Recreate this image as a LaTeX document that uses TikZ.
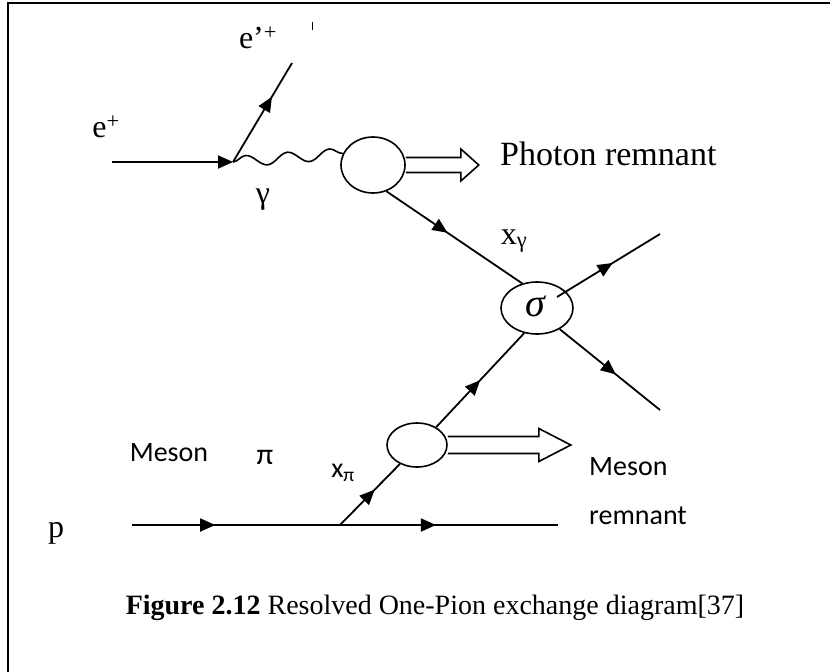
\documentclass[tikz,border=0pt]{standalone}
\usepackage{fontspec}
\setmainfont{Liberation Serif}
\newfontfamily\calib{Carlito}
\usetikzlibrary{arrows.meta,decorations.pathmorphing,decorations.markings,shapes.geometric}
\tikzset{
  fline/.style={line width=1.8pt},
  endtip/.style={-{Triangle[length=15pt,width=13pt]}},
  midarrow/.style={postaction={decorate},decoration={markings,mark=at position #1 with {\arrow{Triangle[length=15pt,width=13pt]}}}},
  blob/.style={ellipse, draw, line width=1.6pt, inner sep=0pt},
  wave/.style={line width=1.6pt, decorate, decoration={snake,segment length=42pt,amplitude=5.5pt}},
  dbl/.style={line width=1.6pt, line join=miter},
  lab/.style={font=\fontsize{32}{38}\selectfont, inner sep=0pt},
  slab/.style={font=\calib\fontsize{28}{34}\selectfont, inner sep=0pt},
}
\begin{document}
\begin{tikzpicture}[x=1pt,y=-1pt]
\useasboundingbox (0,0) rectangle (830,672);
% frame
\draw[line width=2.6pt] (8,672) -- (8,3) -- (830,3);
% points
\coordinate (ein) at (112,162);
\coordinate (v1) at (233,162);
\coordinate (eout) at (292,63);
\coordinate (q1) at (660,234);
\coordinate (q2) at (660,410);
\coordinate (pin) at (132,525);
\coordinate (v2) at (340,525);
\coordinate (pout) at (558,525);
% blobs
\node[blob, minimum width=64pt, minimum height=56pt] (b1) at (373,165) {};
\node[blob, minimum width=72pt, minimum height=52pt] (sg) at (537,308) {};
\node[font=\fontsize{40}{46}\selectfont, inner sep=0pt] (lsg) at (536,306) {\textit{σ}};
\node[blob, minimum width=60pt, minimum height=44pt] (b2) at (417,445) {};
% electron lines
\draw[fline,endtip] (ein) -- (v1);
\draw[fline,midarrow=0.66] (v1) -- (eout);
\draw[line width=1pt] (312,22) -- (312,30);
% photon
\draw[wave] (v1) -- (b1.159);
% photon remnant double arrow
\draw[dbl] ([yshift=7.5pt]b1.east) -- ++(55,0) -- ++(0,-8.5) -- ++(18,16) -- ++(-18,16) -- ++(0,-8.5) -- ++(-55,0);
% parton from photon to sigma
\draw[fline,midarrow=0.45] (b1.-63) -- (sg.121);
% outgoing
\draw[fline,midarrow=0.54] ([shift={(20,-11)}]sg.center) -- (q1);
\draw[fline,midarrow=0.56] (sg.-43) -- (q2);
% parton from meson to sigma
\draw[fline,midarrow=0.5] (b2.43) -- (sg.243);
% proton line
\draw[fline,midarrow=0.4] (pin) -- (v2);
\draw[fline,midarrow=0.44] (v2) -- (pout);
\draw[fline,midarrow=0.58] (v2) -- (b2.228);
% meson remnant double arrow
\draw[dbl] ([yshift=8.5pt]b2.east) -- ++(91,0) -- ++(0,-8) -- ++(32,16.5) -- ++(-32,16.5) -- ++(0,-8) -- ++(-91,0);
% labels
\node[lab] (lep) at (106,127) {e\textsuperscript{+}};
\node[lab] (lepp) at (258,38) {e’\textsuperscript{+}};
\node[lab] (lg) at (263,200) {γ};
\node[lab] (lxg) at (514,241) {x\textsubscript{γ}};
\node[lab, font=\fontsize{34}{40}\selectfont, anchor=west] (lpr) at (500,154) {Photon remnant};
\node[slab] (lml) at (169,453) {Meson};
\node[slab, font=\calib\fontsize{30}{36}\selectfont] (lpi) at (265,457) {π};
\node[slab] (lxp) at (343,473) {x\textsubscript{π}};
\node[slab, anchor=west] (lmr) at (589,467) {Meson};
\node[slab, anchor=west] (lrm) at (589,516) {remnant};
\node[lab] (lp) at (56,533) {p};
\node[font=\fontsize{28}{34}\selectfont, inner sep=0pt] (cap) at (435,608) {\textbf{Figure 2.12} Resolved One-Pion exchange diagram[37]};
\end{tikzpicture}
\end{document}
